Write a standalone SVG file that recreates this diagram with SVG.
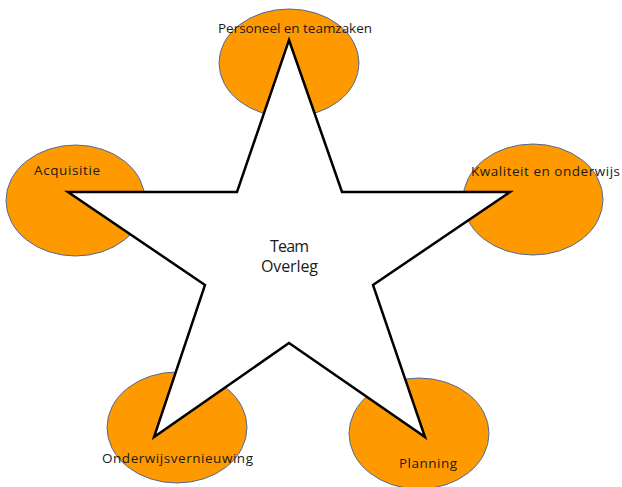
<svg xmlns="http://www.w3.org/2000/svg" width="622" height="487" viewBox="0 0 622 487">
  <style>
    .bubble { fill: #FF9900; stroke: #4F6A9A; stroke-width: 1; }
    .label { font-family: "Open Sans", "Liberation Sans", Arial, sans-serif; font-size: 13.5px; fill: #1a1a1a; }
    .center { font-family: "Open Sans", "Liberation Sans", Arial, sans-serif; font-size: 16px; fill: #1a1a1a; text-anchor: middle; }
    .star { fill: #ffffff; stroke: #000000; stroke-width: 2.5; stroke-linejoin: miter; }
  </style>
  <rect width="622" height="487" fill="#ffffff"/>

  <!-- orange topic bubbles -->
  <g id="personeel"><ellipse class="bubble" cx="289" cy="63" rx="70" ry="54"/></g>
  <g id="acquisitie"><ellipse class="bubble" cx="75.5" cy="200.5" rx="69.5" ry="55.5"/></g>
  <g id="kwaliteit"><ellipse class="bubble" cx="533" cy="199.5" rx="70" ry="55.5"/></g>
  <g id="vernieuwing"><ellipse class="bubble" cx="177" cy="427.5" rx="70" ry="55.5"/></g>
  <g id="planning"><ellipse class="bubble" cx="419" cy="433.5" rx="70" ry="55.5"/></g>

  <!-- central star -->
  <g id="connectors">
    <polygon class="star" points="289,40 342,192 510,192 373,285 425,437 289,343 154,437 205,285 68,192 237,192"/>
  </g>

  <!-- labels -->
  <g id="labels">
    <text class="label" x="218" y="33" textLength="154">Personeel en teamzaken</text>
    <text class="label" x="34" y="175" textLength="66">Acquisitie</text>
    <text class="label" x="471" y="176" textLength="149">Kwaliteit en onderwijs</text>
    <text class="label" x="102" y="463" textLength="151">Onderwijsvernieuwing</text>
    <text class="label" x="399" y="468" textLength="58">Planning</text>
  </g>
  <g id="team-overleg">
    <text class="center" x="289.5" y="252" textLength="39">Team</text>
    <text class="center" x="289.5" y="272" textLength="57">Overleg</text>
  </g>
</svg>
